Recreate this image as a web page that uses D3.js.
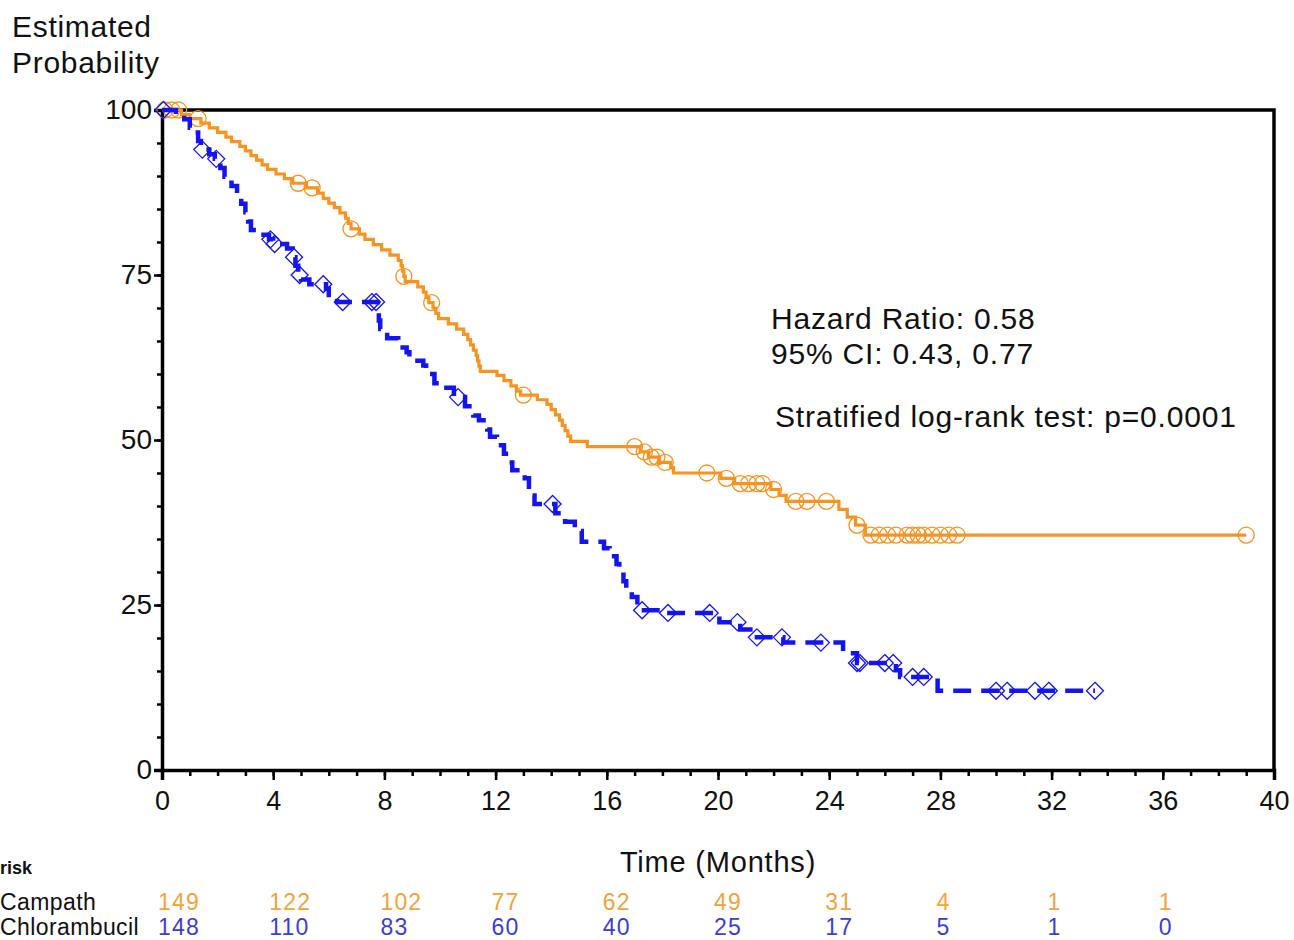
<!DOCTYPE html>
<html lang="en">
<head>
<meta charset="utf-8">
<title>Estimated Probability - Campath vs Chlorambucil</title>
<script src="https://d3js.org/d3.v7.min.js"></script>
<style>
  body { margin: 0; background: #fff; }
  text { font-family: "Liberation Sans", Arial, sans-serif; fill: #111; }
  .axis path, .axis line { stroke: #000; }
  .narrow { font-family: "Liberation Sans Narrow", "Arial Narrow", "Liberation Sans", sans-serif; }
</style>
</head>
<body>
<svg id="chart" width="1294" height="940"></svg>
<script>
// ticks and risk table
var xTicks = [0, 4, 8, 12, 16, 20, 24, 28, 32, 36, 40];
var yTicks = [0, 25, 50, 75, 100];
var riskTimes = [0, 4, 8, 12, 16, 20, 24, 28, 32, 36];
var campathRisk = [149, 122, 102, 77, 62, 49, 31, 4, 1, 1];
var chlorRisk = [148, 110, 83, 60, 40, 25, 17, 5, 1, 0];

// Campath: event times (months) and survival (%) after each drop
var campathTime = [0.7, 1.0, 1.4, 1.7, 2.0, 2.3, 2.5, 2.8, 3.0, 3.2, 3.4, 3.6, 3.8, 4.1, 4.4, 4.7,
  5.2, 5.6, 5.8, 6.0, 6.2, 6.4, 6.6, 6.7, 6.8, 7.1, 7.3, 7.6, 7.9, 8.2, 8.5, 8.6, 8.65, 8.7, 8.75,
  9.2, 9.4, 9.5, 9.6, 9.75, 9.85, 9.95, 10.3, 10.6, 10.85, 11.0, 11.1, 11.2, 11.3, 11.35, 11.4, 11.45,
  12.05, 12.3, 12.55, 12.75, 12.9, 13.5, 13.85, 14.0, 14.15, 14.3, 14.4, 14.5, 14.6, 14.7, 15.3,
  17.2, 17.5, 17.9, 18.3, 18.4, 20.1, 20.6, 21.9, 22.2, 22.45, 24.35, 24.65, 24.95, 25.3];
var campathSurv = [99.3, 98.7, 98.0, 97.3, 96.6, 95.9, 95.2, 94.5, 93.8, 93.1, 92.4, 91.7, 91.0, 90.3, 89.6, 88.9,
  88.2, 87.4, 86.6, 85.9, 85.2, 84.4, 83.6, 82.8, 82.0, 81.2, 80.4, 79.6, 78.8, 78.0, 77.2, 76.4, 75.6, 74.8, 74.0,
  73.2, 72.4, 71.6, 70.8, 70.0, 69.2, 68.4, 67.6, 66.8, 66.0, 65.2, 64.4, 63.6, 62.8, 62.0, 61.2, 60.4,
  59.8, 59.0, 58.2, 57.4, 56.8, 56.1, 55.4, 54.6, 53.8, 53.0, 52.2, 51.4, 50.6, 49.8, 49.0,
  48.2, 47.4, 46.6, 45.8, 45.0, 44.2, 43.4, 42.5, 41.6, 40.7, 39.5, 38.3, 37.1, 35.6];
var campathCensor = [0.1, 0.35, 0.6, 1.3, 4.9, 5.4, 6.8, 8.7, 9.7, 13.0, 17.0, 17.35, 17.6, 17.8, 18.1,
  19.6, 20.3, 20.8, 21.1, 21.4, 21.6, 22.0, 22.8, 23.2, 23.9, 25.0, 25.5, 25.8, 26.1, 26.4, 26.8,
  27.0, 27.2, 27.4, 27.7, 28.0, 28.3, 28.6, 39.0];

// Chlorambucil
var chlorTime = [0.5, 0.8, 1.0, 1.2, 1.3, 1.4, 1.7, 1.9, 2.1, 2.25, 2.5, 2.7, 2.85, 3.0, 3.1, 3.2, 3.5, 3.85,
  4.0, 4.5, 4.7, 4.8, 4.9, 5.0, 5.3, 5.9, 6.0, 6.3, 7.75, 7.8, 7.85, 8.1, 8.5, 8.8, 8.9, 9.4, 9.5, 9.8,
  10.1, 10.5, 10.9, 11.2, 11.4, 11.7, 11.8, 12.05, 12.3, 12.5, 12.6, 13.05, 13.2, 13.3, 13.4,
  14.15, 14.5, 14.85, 15.1, 15.9, 16.1, 16.35, 16.45, 16.6, 16.7, 16.9, 17.1, 17.25, 18.0,
  20.05, 20.8, 21.3, 22.35, 24.5, 25.0, 26.4, 26.55, 27.9];
var chlorSurv = [99.3, 98.6, 97.3, 96.6, 95.3, 94.0, 93.3, 92.6, 91.2, 89.9, 88.5, 87.2, 85.8, 84.5, 83.1, 81.8, 81.1, 80.4,
  79.7, 79.0, 77.7, 76.4, 75.0, 74.3, 73.6, 72.9, 71.6, 70.9, 69.5, 68.1, 66.8, 65.4, 64.0, 63.3, 62.0, 61.3, 60.0, 58.6,
  57.9, 56.5, 55.1, 53.7, 53.0, 51.6, 50.5, 49.2, 47.9, 46.6, 45.4, 44.2, 42.9, 41.6, 40.3,
  38.9, 37.6, 36.2, 34.6, 33.6, 32.4, 31.2, 30.0, 28.6, 27.2, 26.2, 25.0, 24.2, 23.8,
  22.4, 21.3, 20.1, 19.3, 17.7, 16.2, 15.1, 14.1, 12.0];
var chlorCensor = [0.05, 1.45, 1.95, 3.9, 4.05, 4.75, 4.95, 5.8, 6.5, 7.55, 7.7, 10.65, 14.05, 17.27, 18.2,
  19.7, 20.7, 21.4, 22.3, 23.7, 25.0, 25.1, 26.0, 26.3, 27.0, 27.4, 30.0, 30.4, 31.4, 31.9, 33.56];

var orange = "#F7931E", blue = "#1414F0";

var svg = d3.select("#chart");

var x = d3.scaleLinear().domain([0, 40]).range([162, 1274]);
var y = d3.scaleLinear().domain([0, 100]).range([770, 110]);

// step points: start at 100, then each drop, then hold to last follow-up
function stepPoints(times, surv, lastT) {
  var pts = [[0, 100]];
  times.forEach(function(t, i) { pts.push([t, surv[i]]); });
  pts.push([lastT, surv[surv.length - 1]]);
  return pts;
}
function survAt(times, surv, t) {
  var s = 100;
  for (var i = 0; i < times.length; i++) { if (times[i] <= t) s = surv[i]; }
  return s;
}

var line = d3.line()
  .x(function(d) { return x(d[0]); })
  .y(function(d) { return y(d[1]); })
  .curve(d3.curveStepAfter);

// axes
var yMinor = d3.axisLeft(y).tickValues(d3.range(0, 101, 5)).tickSize(5).tickFormat("");
svg.append("g").attr("class", "axis").attr("transform", "translate(162,0)").call(yMinor)
  .call(function(g) { g.select(".domain").remove(); })
  .selectAll("line").attr("stroke-width", 2.5);

var yAxis = d3.axisLeft(y).tickValues(yTicks).tickSize(8).tickPadding(2);
svg.append("g").attr("class", "axis").attr("transform", "translate(162,0)").call(yAxis)
  .call(function(g) {
    g.select(".domain").attr("stroke-width", 3.5);
    g.selectAll("line").attr("stroke-width", 2.5);
    g.selectAll("text").attr("font-size", 28).attr("fill", "#111");
  });

var xMinor = d3.axisBottom(x).tickValues(d3.range(0, 41, 1)).tickSize(6).tickFormat("");
svg.append("g").attr("class", "axis").attr("transform", "translate(0,770)").call(xMinor)
  .call(function(g) { g.select(".domain").remove(); })
  .selectAll("line").attr("stroke-width", 2.5);

var xAxis = d3.axisBottom(x).tickValues(xTicks).tickSize(10).tickPadding(11);
svg.append("g").attr("class", "axis").attr("transform", "translate(0,770)").call(xAxis)
  .call(function(g) {
    g.select(".domain").attr("stroke-width", 3.5);
    g.selectAll("line").attr("stroke-width", 2.5);
    g.selectAll("text").attr("font-size", 27).attr("fill", "#111");
  });

// frame top + right
svg.append("path")
  .attr("d", "M" + x(0) + "," + y(100) + "H" + x(40) + "V" + y(0))
  .attr("fill", "none").attr("stroke", "#000").attr("stroke-width", 3.5);

// Campath curve
svg.append("path")
  .datum(stepPoints(campathTime, campathSurv, 39.0))
  .attr("d", line)
  .attr("fill", "none").attr("stroke", orange).attr("stroke-width", 3.2);

svg.selectAll(".cens-c")
  .data(campathCensor)
  .enter().append("circle")
  .attr("class", "cens-c")
  .attr("cx", function(d) { return x(d); })
  .attr("cy", function(d) { return y(survAt(campathTime, campathSurv, d)); })
  .attr("r", 8)
  .attr("fill", "none").attr("stroke", orange).attr("stroke-width", 1.3);

// Chlorambucil curve (dashed)
svg.append("path")
  .datum(stepPoints(chlorTime, chlorSurv, 33.56))
  .attr("d", line)
  .attr("fill", "none").attr("stroke", blue).attr("stroke-width", 4.5)
  .attr("stroke-dasharray", "18,10");

var diamond = "M0,-8.5L8.5,0L0,8.5L-8.5,0Z";
svg.selectAll(".cens-b")
  .data(chlorCensor)
  .enter().append("path")
  .attr("class", "cens-b")
  .attr("d", diamond)
  .attr("transform", function(d) {
    return "translate(" + x(d) + "," + y(survAt(chlorTime, chlorSurv, d)) + ")";
  })
  .attr("fill", "none").attr("stroke", blue).attr("stroke-width", 1.3);

// titles
svg.append("text").attr("x", 12).attr("y", 37).attr("font-size", 30).attr("letter-spacing", 0.7).text("Estimated");
svg.append("text").attr("x", 12).attr("y", 73).attr("font-size", 30).attr("letter-spacing", 0.7).text("Probability");
svg.append("text").attr("x", x(20)).attr("y", 872).attr("text-anchor", "middle")
  .attr("font-size", 29).attr("letter-spacing", 0.8).text("Time (Months)");

// annotation
var note = svg.append("g").attr("font-size", 30).attr("letter-spacing", 0.8);
note.append("text").attr("x", 771).attr("y", 329).text("Hazard Ratio: 0.58");
note.append("text").attr("x", 771).attr("y", 364).text("95% CI: 0.43, 0.77");
note.append("text").attr("x", 775).attr("y", 427).text("Stratified log-rank test: p=0.0001");

// risk table
svg.append("text").attr("x", 0).attr("y", 874).attr("font-size", 18).attr("font-weight", "bold").text("risk");
svg.append("text").attr("class", "narrow").attr("x", 0).attr("y", 910).attr("font-size", 23)
  .attr("letter-spacing", 0.4).text("Campath");
svg.append("text").attr("class", "narrow").attr("x", 0).attr("y", 935).attr("font-size", 23)
  .attr("letter-spacing", 0.4).text("Chlorambucil");

svg.selectAll(".risk-c")
  .data(campathRisk)
  .enter().append("text")
  .attr("class", "narrow")
  .attr("x", function(d, i) { return x(riskTimes[i]) - 4; })
  .attr("y", 910)
  .attr("font-size", 23)
  .attr("letter-spacing", 1.2)
  .style("fill", "#F2A33A")
  .text(function(d) { return d; });

svg.selectAll(".risk-b")
  .data(chlorRisk)
  .enter().append("text")
  .attr("class", "narrow")
  .attr("x", function(d, i) { return x(riskTimes[i]) - 4; })
  .attr("y", 935)
  .attr("font-size", 23)
  .attr("letter-spacing", 1.2)
  .style("fill", "#3C3CD6")
  .text(function(d) { return d; });
</script>
</body>
</html>
